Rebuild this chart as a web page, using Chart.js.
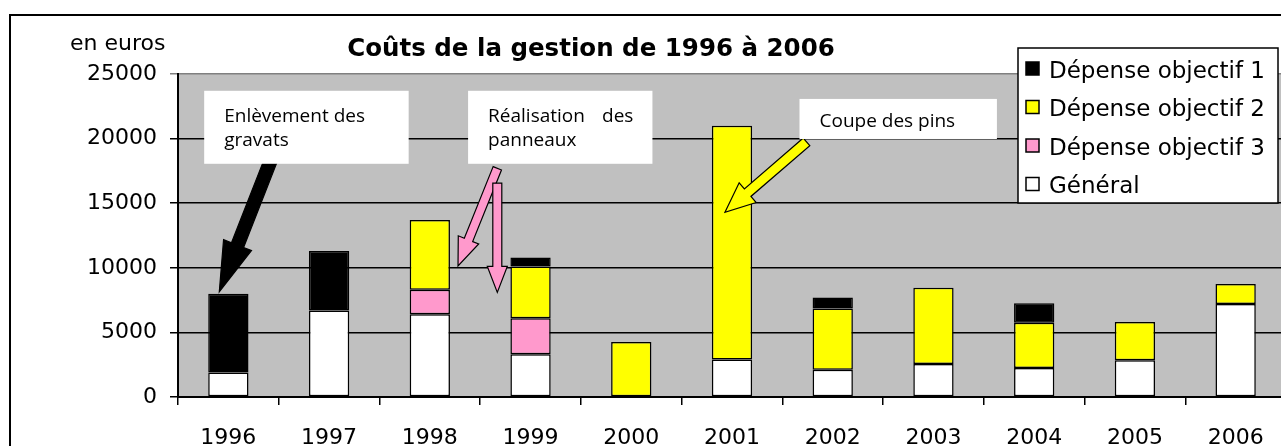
<!DOCTYPE html>
<html lang="fr">
<head>
<meta charset="UTF-8">
<title>Coûts de la gestion</title>
<script src="https://cdn.jsdelivr.net/npm/chart.js@4.4.0/dist/chart.umd.min.js"></script>
<style>
    html, body { margin: 0; padding: 0; background: #fff; overflow: hidden; }
    #wrap { position: absolute; left: 0; top: 0; width: 1300px; height: 470px; }
</style>
</head>
<body>
<div id="wrap"><canvas id="chart" width="1300" height="470"></canvas></div>

<script>
// data (euros)
var years = ['1996', '1997', '1998', '1999', '2000', '2001', '2002', '2003', '2004', '2005', '2006'];
var general = [1900, 6700, 6400, 3300, null, 2900, 2100, 2550, 2250, 2850, 7200];
var obj3 = [null, null, 1900, 2800, null, null, null, null, null, null, null];
var obj2 = [null, null, 5400, 4000, 4250, 18100, 4750, 5900, 3500, 2950, 1550];
var obj1 = [6100, 4600, null, 700, null, null, 850, null, 1500, null, null];
var yTicks = [0, 5000, 10000, 15000, 20000, 25000];

// callouts, placed in data units (category index, euros)
var notes = [
    { lines: ['Enlèvement des', 'gravats'], x0: -0.24, x1: 1.79, y0: 23700, y1: 18050 },
    { lines: ['Réalisation|des', 'panneaux'], x0: 2.38, x1: 4.21, y0: 23700, y1: 18050 },
    { lines: ['Coupe des pins'], x0: 5.67, x1: 7.63, y0: 23070, y1: 19970 }
];
var arrows = [
    { from: [0.43, 18500], to: [-0.09, 8150], fill: '#000000', shaft: 13, head: 30, headLen: 50 },
    { from: [2.67, 17700], to: [2.28, 10150], fill: '#ff99cc', shaft: 9, head: 22, headLen: 28 },
    { from: [2.67, 16550], to: [2.67, 8100], fill: '#ff99cc', shaft: 9, head: 20, headLen: 26 },
    { from: [5.74, 19750], to: [4.93, 14300], fill: '#ffff00', shaft: 10, head: 26, headLen: 30 }
];

var legendItems = [
    { label: 'Dépense objectif 1', color: '#000000' },
    { label: 'Dépense objectif 2', color: '#ffff00' },
    { label: 'Dépense objectif 3', color: '#ff99cc' },
    { label: 'Général', color: '#ffffff' }
];

var FONT = '"DejaVu Sans", Arial, sans-serif';
var NOTE_FONT = '"Open Sans", "Noto Sans", sans-serif';

function px(chart, i) {
    var x = chart.scales.x;
    var p0 = x.getPixelForValue(0), p1 = x.getPixelForValue(1);
    return p0 + i * (p1 - p0);
}
function py(chart, v) { return chart.scales.y.getPixelForValue(v); }

function drawArrow(ctx, chart, a) {
    var tx = px(chart, a.from[0]), ty = py(chart, a.from[1]);
    var hx = px(chart, a.to[0]), hy = py(chart, a.to[1]);
    var len = Math.hypot(hx - tx, hy - ty);
    var dx = (hx - tx) / len, dy = (hy - ty) / len;
    var nx = -dy, ny = dx;
    var bx = hx - dx * a.headLen, by = hy - dy * a.headLen;
    var w = a.shaft / 2, h = a.head / 2;
    ctx.beginPath();
    ctx.moveTo(tx + nx * w, ty + ny * w);
    ctx.lineTo(bx + nx * w, by + ny * w);
    ctx.lineTo(bx + nx * h, by + ny * h);
    ctx.lineTo(hx, hy);
    ctx.lineTo(bx - nx * h, by - ny * h);
    ctx.lineTo(bx - nx * w, by - ny * w);
    ctx.lineTo(tx - nx * w, ty - ny * w);
    ctx.closePath();
    ctx.fillStyle = a.fill;
    ctx.fill();
    ctx.lineWidth = 1.2;
    ctx.strokeStyle = '#000';
    ctx.stroke();
}

var decor = {
    id: 'decor',
    beforeDraw: function (chart) {
        var ctx = chart.ctx, a = chart.chartArea;
        ctx.save();
        ctx.fillStyle = '#c0c0c0';
        ctx.fillRect(a.left, a.top, a.right - a.left, a.bottom - a.top);
        // outer frame
        ctx.strokeStyle = '#000';
        ctx.lineWidth = 2;
        ctx.strokeRect(10, 15, 1400, 600);
        // title and unit
        ctx.fillStyle = '#000';
        ctx.textBaseline = 'alphabetic';
        ctx.textAlign = 'center';
        ctx.font = 'bold 24.5px ' + FONT;
        ctx.fillText('Coûts de la gestion de 1996 à 2006', 591, 56);
        ctx.textAlign = 'left';
        ctx.font = '22px ' + FONT;
        ctx.fillText('en euros', 70, 50);
        ctx.restore();
    },
    afterDatasetsDraw: function (chart) {
        var ctx = chart.ctx;
        ctx.save();
        arrows.forEach(function (a) { drawArrow(ctx, chart, a); });

        // callout boxes
        notes.forEach(function (n) {
            var l = px(chart, n.x0), r = px(chart, n.x1);
            var t = py(chart, n.y0), b = py(chart, n.y1);
            ctx.fillStyle = '#fff';
            ctx.fillRect(l, t, r - l, b - t);
            ctx.fillStyle = '#000';
            ctx.font = '19px ' + NOTE_FONT;
            ctx.textBaseline = 'alphabetic';
            var base = n.lines.length > 1 ? t + 31 : t + 28;
            n.lines.forEach(function (line, k) {
                var y = base + k * 24;
                var parts = line.split('|');
                ctx.textAlign = 'left';
                ctx.fillText(parts[0], l + 20, y);
                if (parts[1]) {
                    ctx.textAlign = 'right';
                    ctx.fillText(parts[1], r - 19, y);
                }
            });
        });

        // legend box
        ctx.fillStyle = '#fff';
        ctx.fillRect(1018, 48, 260, 155);
        ctx.strokeStyle = '#000';
        ctx.lineWidth = 1.5;
        ctx.strokeRect(1018, 48, 260, 155);
        ctx.font = '23px ' + FONT;
        ctx.textAlign = 'left';
        ctx.textBaseline = 'middle';
        legendItems.forEach(function (it, k) {
            var cy = 71 + k * 38.5;
            ctx.fillStyle = it.color;
            ctx.fillRect(1026, cy - 9, 13, 13);
            ctx.strokeRect(1026, cy - 9, 13, 13);
            ctx.fillStyle = '#000';
            ctx.fillText(it.label, 1049, cy + 1);
        });
        ctx.restore();
    }
};

function ds(label, data, color) {
    return {
        label: label,
        data: data,
        backgroundColor: color,
        borderColor: '#000',
        borderWidth: 1.5,
        borderSkipped: false,
        categoryPercentage: 1,
        barPercentage: 0.4
    };
}

new Chart(document.getElementById('chart'), {
    type: 'bar',
    data: {
        labels: years,
        datasets: [
            ds('Général', general, '#ffffff'),
            ds('Dépense objectif 3', obj3, '#ff99cc'),
            ds('Dépense objectif 2', obj2, '#ffff00'),
            ds('Dépense objectif 1', obj1, '#000000')
        ]
    },
    options: {
        responsive: false,
        animation: false,
        devicePixelRatio: 1,
        layout: { padding: { left: 0, top: 74, right: 14, bottom: 0 } },
        plugins: { legend: { display: false }, tooltip: { enabled: false }, title: { display: false } },
        scales: {
            x: {
                stacked: true,
                grid: { offset: true, drawOnChartArea: false, color: '#000', lineWidth: 1.5, tickLength: 8 },
                border: { color: '#000', width: 2 },
                ticks: { color: '#000', font: { family: FONT, size: 22 }, padding: 20, maxRotation: 0 },
                afterFit: function (s) { s.height = 73; }
            },
            y: {
                stacked: true,
                min: 0,
                max: 25000,
                afterBuildTicks: function (s) { s.ticks = yTicks.map(function (v) { return { value: v }; }); },
                grid: {
                    color: function (c) { return c.tick && c.tick.value === 25000 ? '#808080' : '#000'; },
                    lineWidth: 1.5,
                    tickLength: 8
                },
                border: { color: '#000', width: 2 },
                ticks: { color: '#000', font: { family: FONT, size: 22 }, padding: 13,
                    callback: function (v) { return String(v); } },
                afterFit: function (s) { s.width = 178; }
            }
        }
    },
    plugins: [decor]
});
</script>
</body>
</html>
